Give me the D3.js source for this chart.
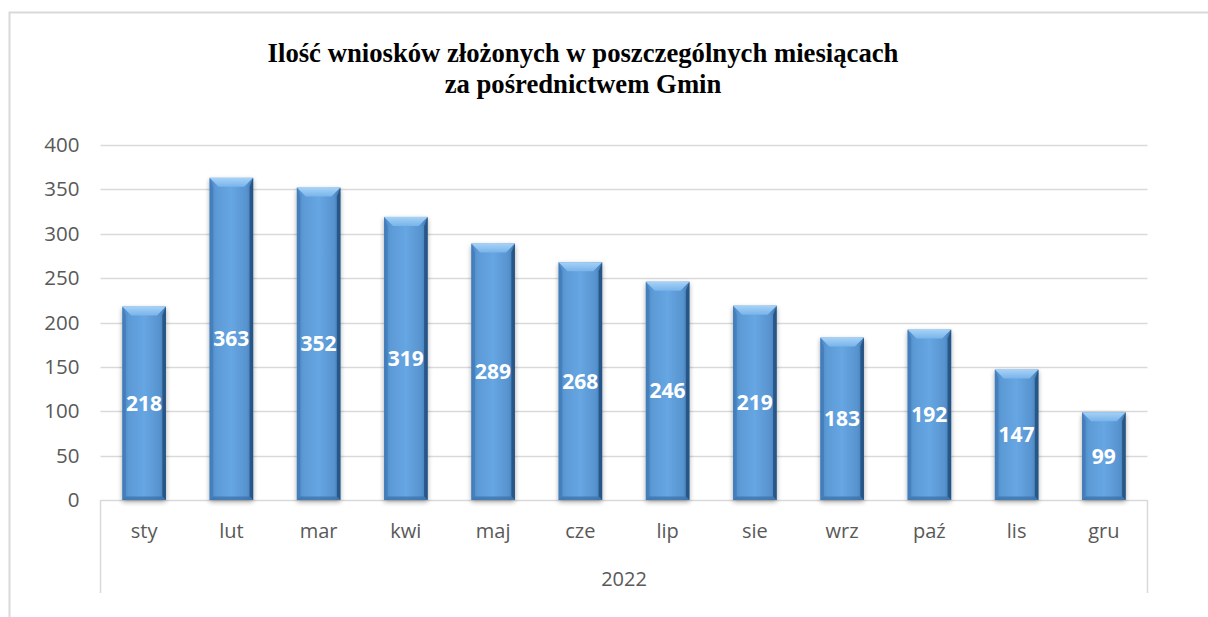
<!DOCTYPE html>
<html><head><meta charset="utf-8">
<script src="https://cdn.jsdelivr.net/npm/d3@7"></script>
<style>body{margin:0;background:#fff;}svg{display:block;}</style>
</head><body>
<script>
const months = ["sty","lut","mar","kwi","maj","cze","lip","sie","wrz","paź","lis","gru"];
const values = [218,363,352,319,289,268,246,219,183,192,147,99];
const yTicks = [0,50,100,150,200,250,300,350,400];
const yearLabel = "2022";
const titleLines = ["Ilość wniosków złożonych w poszczególnych miesiącach","za pośrednictwem Gmin"];

const W=1208,H=617;
const FONT="'Open Sans',sans-serif";
const svg=d3.select("body").append("svg").attr("width",W).attr("height",H);
const defs=svg.append("defs");
const g1=defs.append("linearGradient").attr("id","barg").attr("x1","0").attr("x2","1").attr("y1","0").attr("y2","0");
[[0,"#4a86c4"],[0.15,"#5c9ad6"],[0.5,"#66a6e2"],[0.85,"#5793cf"],[1,"#3f77b0"]].forEach(s=>g1.append("stop").attr("offset",s[0]).attr("stop-color",s[1]));
const g2=defs.append("linearGradient").attr("id","topg").attr("x1","0").attr("x2","0").attr("y1","0").attr("y2","1");
[[0,"#a6d2f7"],[1,"#79b4ea"]].forEach(s=>g2.append("stop").attr("offset",s[0]).attr("stop-color",s[1]));
const f=defs.append("filter").attr("id","sh").attr("x","-30%").attr("y","-10%").attr("width","160%").attr("height","130%");
f.append("feGaussianBlur").attr("in","SourceAlpha").attr("stdDeviation",2.5).attr("result","b");
f.append("feOffset").attr("in","b").attr("dx",0).attr("dy",2).attr("result","o");
f.append("feComponentTransfer").attr("in","o").attr("result","o2").append("feFuncA").attr("type","linear").attr("slope",0.35);
const fm=f.append("feMerge");fm.append("feMergeNode").attr("in","o2");fm.append("feMergeNode").attr("in","SourceGraphic");

// frame
svg.append("path").attr("d",`M9.5,${H} V12.5 H${W}`).attr("fill","none").attr("stroke","#d9d9d9").attr("stroke-width",2);

const x0=100.5,x1=1147.5;
const y=d3.scaleLinear().domain([0,400]).range([500,145]);
const x=d3.scaleBand().domain(months).range([x0,x1]).paddingInner(0.5).paddingOuter(0.25);

// title
const t=svg.append("text").attr("text-anchor","middle").attr("font-family","'Liberation Serif','Times New Roman',serif").attr("font-weight","bold").attr("font-size",26.7).attr("fill","#000");
titleLines.forEach((l,i)=>t.append("tspan").attr("x",583).attr("y",62+i*31).text(l));

// grid
const grid=svg.append("g");
yTicks.forEach(v=>{ if(v>0) grid.append("line").attr("x1",x0).attr("x2",x1).attr("y1",Math.round(y(v))+0.5).attr("y2",Math.round(y(v))+0.5).attr("stroke","#d9d9d9").attr("stroke-width",1.5);});

// y axis labels
const yAxis=d3.axisLeft(y).tickValues(yTicks).tickSize(0).tickPadding(21);
const ya=svg.append("g").attr("transform",`translate(${x0},0)`).call(yAxis);
ya.select(".domain").remove();
ya.selectAll("text").attr("font-family",FONT).attr("font-size",20.5).attr("fill","#595959");

// x axis lines
svg.append("line").attr("x1",x0).attr("x2",x1).attr("y1",500.5).attr("y2",500.5).attr("stroke","#d9d9d9").attr("stroke-width",1.5);
[x0,x1].forEach(xx=>svg.append("line").attr("x1",xx).attr("x2",xx).attr("y1",500).attr("y2",593).attr("stroke","#d9d9d9").attr("stroke-width",1.5));

const xAxis=d3.axisBottom(x).tickSize(0);
const xa=svg.append("g").attr("transform","translate(0,500)").call(xAxis);
xa.select(".domain").remove();
xa.selectAll("text").attr("y",38).attr("dy",0).attr("font-family",FONT).attr("font-size",20).attr("fill","#595959");
svg.append("text").attr("x",(x0+x1)/2).attr("y",586).attr("text-anchor","middle").attr("font-family",FONT).attr("font-size",20).attr("fill","#595959").text(yearLabel);

// bars
const bw=x.bandwidth();
const bars=svg.append("g").selectAll("g").data(months.map((m,i)=>({m,v:values[i]}))).join("g");
bars.each(function(d){
  const gg=d3.select(this);
  const bx=x(d.m), by=y(d.v), bh=y(0)-y(d.v), bev=Math.min(9,bh/3);
  gg.append("rect").attr("x",bx).attr("y",by).attr("width",bw).attr("height",bh).attr("fill","url(#barg)").attr("filter","url(#sh)");
  gg.append("path").attr("d",`M${bx},${by} H${bx+bw} L${bx+bw-bev},${by+bev} H${bx+bev} Z`).attr("fill","url(#topg)");
  gg.append("path").attr("d",`M${bx},${by} L${bx+bev*0.4},${by+bev} V${by+bh-bev*0.4} L${bx},${by+bh} Z`).attr("fill","#3d76b2").attr("opacity",0.6);
  gg.append("path").attr("d",`M${bx+bw},${by} L${bx+bw-bev*0.4},${by+bev} V${by+bh-bev*0.4} L${bx+bw},${by+bh} Z`).attr("fill","#1e4a75").attr("opacity",0.75);
  gg.append("path").attr("d",`M${bx},${by+bh} H${bx+bw} L${bx+bw-bev*0.4},${by+bh-bev*0.4} H${bx+bev*0.4} Z`).attr("fill","#3a6fa6").attr("opacity",0.7);
  gg.append("text").attr("x",bx+bw/2).attr("y",by+bh/2).attr("dy","0.36em").attr("text-anchor","middle").attr("font-family",FONT).attr("font-weight","bold").attr("font-size",21).attr("fill","#fff").text(d.v);
});
</script>
</body></html>
